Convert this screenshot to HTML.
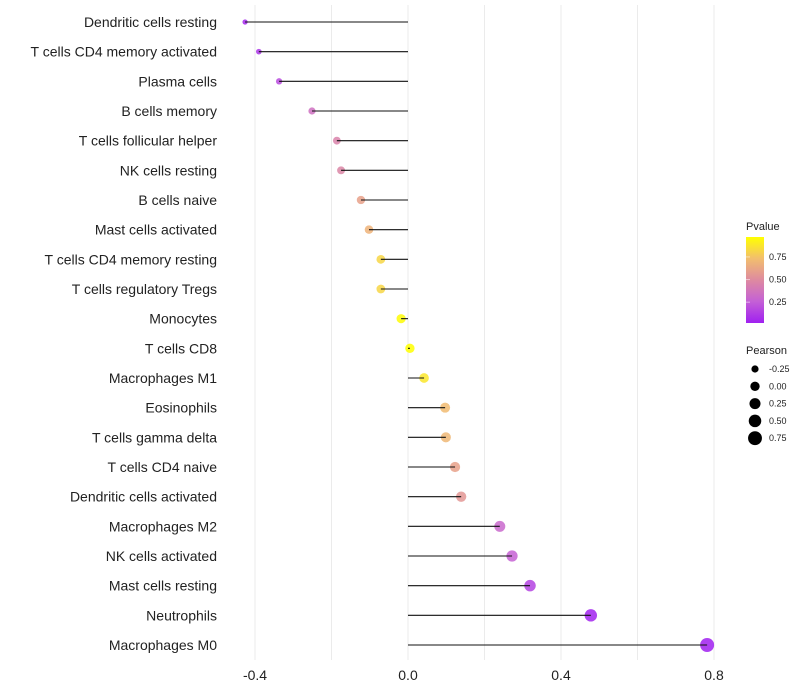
<!DOCTYPE html>
<html><head><meta charset="utf-8"><style>
body{margin:0;background:#fff;}
svg{font-family:"Liberation Sans",sans-serif;display:block;}
</style></head><body>
<svg id="chart" width="800" height="700"></svg>
<script>
const categories=["Dendritic cells resting","T cells CD4 memory activated","Plasma cells","B cells memory","T cells follicular helper","NK cells resting","B cells naive","Mast cells activated","T cells CD4 memory resting","T cells regulatory  Tregs ","Monocytes","T cells CD8","Macrophages M1","Eosinophils","T cells gamma delta","T cells CD4 naive","Dendritic cells activated","Macrophages M2","NK cells activated","Mast cells resting","Neutrophils","Macrophages M0"];
const pearson=[-0.426,-0.39,-0.337,-0.251,-0.186,-0.175,-0.123,-0.102,-0.071,-0.071,-0.018,0.005,0.042,0.097,0.099,0.123,0.139,0.24,0.272,0.319,0.478,0.782];
const pvalues=[0.05,0.1,0.18,0.35,0.45,0.47,0.6,0.68,0.82,0.82,0.96,0.98,0.88,0.72,0.7,0.6,0.55,0.3,0.27,0.15,0.03,0.01];
const xTicks=[-0.4,0,0.4,0.8];
const xTickLabels=["-0.4","0.0","0.4","0.8"];
const pTicks=[0.25,0.5,0.75];
const sizeLegend=[-0.25,0,0.25,0.5,0.75];

const NS="http://www.w3.org/2000/svg";
const svg=document.getElementById('chart');
function mk(t,a,p){const e=document.createElementNS(NS,t);for(const k in a)e.setAttribute(k,a[k]);(p||svg).appendChild(e);return e;}
const x=v=>408+v*382.5;
const y=i=>22+i*(623/21);
const rScale=v=>Math.sqrt(Math.max(4,13+(v+0.25)*35));
const stops=[[0,[160,32,240]],[0.25,[196,96,214]],[0.5,[222,138,160]],[0.75,[242,190,110]],[1,[255,255,0]]];
function col(p){const t=Math.max(0,Math.min(1,(p-0.02)/0.95));
  for(let k=1;k<stops.length;k++){if(t<=stops[k][0]){const a=stops[k-1],b=stops[k];const f=(t-a[0])/(b[0]-a[0]);
    return 'rgb('+a[1].map((c,j)=>Math.round(c+(b[1][j]-c)*f)).join(',')+')';}}
  return 'rgb(255,255,0)';}

[-0.4,-0.2,0,0.2,0.4,0.6,0.8].forEach(v=>{
  const l=mk('line',{x1:x(v),x2:x(v),y1:5,y2:660,stroke:'#ebebeb','stroke-width':1});
  
});
xTicks.forEach((v,i)=>{
  const t=mk('text',{x:x(v),y:680,'text-anchor':'middle','font-size':14,fill:'#222'});
  t.textContent=xTickLabels[i];
  
});
categories.forEach((c,i)=>{
  const t=mk('text',{x:217,y:y(i)+5,'text-anchor':'end','font-size':14,fill:'#222'});
  t.textContent=c;
  
  const p=mk('circle',{cx:x(pearson[i]),cy:y(i),r:rScale(pearson[i]),fill:col(pvalues[i]),'fill-opacity':0.85});
  
  const l=mk('line',{x1:x(0),x2:x(pearson[i]),y1:y(i),y2:y(i),stroke:'#111','stroke-width':1.1});
  
});
const lt=mk('text',{x:746,y:230,'font-size':11,fill:'#222'});lt.textContent='Pvalue';

const defs=mk('defs',{});const g=mk('linearGradient',{id:'pg',x1:0,y1:1,x2:0,y2:0},defs);
[0,0.125,0.25,0.375,0.5,0.625,0.75,0.875,1].forEach(o=>mk('stop',{offset:o,'stop-color':col(0.02+o*0.95)},g));
const bar=mk('rect',{x:746,y:237,width:18,height:86,fill:'url(#pg)'});

const pY=p=>323-(p-0.02)/0.95*86;
pTicks.forEach(p=>{
  const tk=mk('line',{x1:746,x2:750,y1:pY(p),y2:pY(p),stroke:'#fff','stroke-opacity':0.5});
  
  const t=mk('text',{x:769,y:pY(p)+3,'font-size':9,fill:'#222'});t.textContent=p.toFixed(2);
  
});
const st=mk('text',{x:746,y:354,'font-size':11,fill:'#222'});st.textContent='Pearson';

sizeLegend.forEach((v,i)=>{
  const cy=369+i*17.3;
  const c=mk('circle',{cx:755,cy:cy,r:rScale(v),fill:'#000'});
  
  const t=mk('text',{x:769,y:cy+3,'font-size':9,fill:'#222'});t.textContent=v.toFixed(2);
  
});
</script>
</body></html>
